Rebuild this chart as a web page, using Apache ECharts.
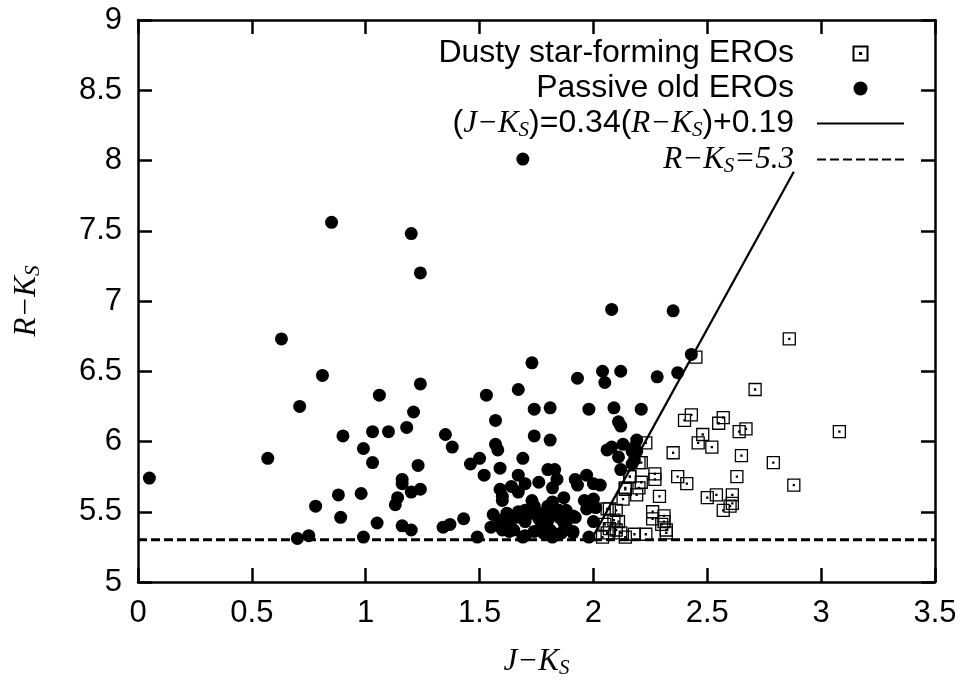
<!DOCTYPE html>
<html><head><meta charset="utf-8">
<script src="https://cdn.jsdelivr.net/npm/echarts@6/dist/echarts.min.js"></script>
<style>html,body{margin:0;padding:0;background:#fff}#c{width:963px;height:685px}</style>
</head><body><div id="c"></div>
<script>
// ---- data (J-K_S, R-K_S) ----
const passiveEROs = [
 [0.85,7.56],[0.63,6.73],[0.81,6.47],[0.71,6.25],[1.06,6.33],[0.90,6.04],[1.03,6.07],[0.99,5.95],[1.03,5.85],[0.57,5.88],
 [0.05,5.74],[0.88,5.62],[0.98,5.63],[0.78,5.54],[0.89,5.46],[1.05,5.42],[0.70,5.31],[0.75,5.33],[0.99,5.32],
 [1.20,7.48],[1.24,7.20],[1.69,8.01],
 [2.08,6.94],[1.73,6.56],[2.04,6.50],[2.12,6.50],[2.05,6.42],[1.93,6.45],[1.24,6.41],[1.53,6.33],[1.67,6.37],[1.21,6.21],
 [1.18,6.10],[1.10,6.07],[1.74,6.23],[1.81,6.24],[1.98,6.23],[2.09,6.24],[1.57,6.15],[1.35,6.05],[1.38,5.96],[1.57,5.98],
 [1.58,5.94],[1.74,6.04],[1.81,6.01],[2.11,6.14],[2.12,6.11],[2.06,5.94],[2.08,5.96],[1.23,5.83],[1.46,5.84],[1.50,5.88],
 [1.52,5.76],[1.59,5.81],[1.69,5.88],[1.67,5.76],[1.76,5.71],[1.80,5.80],[1.83,5.80],[1.84,5.73],[1.82,5.67],[1.87,5.60],
 [1.92,5.73],[1.93,5.69],[1.97,5.76],[2.00,5.70],[2.03,5.69],[1.16,5.73],[1.16,5.70],[1.20,5.64],[1.24,5.66],[1.14,5.60],
 [1.13,5.55],[1.16,5.40],[1.20,5.37],[1.34,5.39],[1.37,5.41],[1.43,5.45],[1.49,5.32],[1.59,5.66],[1.60,5.61],[1.60,5.58],
 [1.64,5.68],[1.67,5.64],[1.70,5.70],[1.73,5.58],[1.82,5.57],[1.96,5.58],[1.97,5.52],[2.00,5.59],[2.01,5.53],[1.56,5.48],
 [1.55,5.39],[1.59,5.44],[1.62,5.49],[1.60,5.37],[1.63,5.42],[1.66,5.46],[1.70,5.51],[1.70,5.43],[1.69,5.32],[1.74,5.54],
 [1.76,5.45],[1.74,5.36],[1.78,5.49],[1.80,5.44],[1.82,5.51],[1.81,5.37],[1.82,5.32],[1.85,5.46],[1.88,5.51],[1.87,5.42],
 [1.86,5.35],[1.91,5.35],[1.92,5.46],[2.00,5.43],[1.98,5.32],[1.78,5.35],[1.77,5.39],[1.65,5.37],
 [2.35,6.93],[2.43,6.62],[2.28,6.46],[2.37,6.49],[2.21,6.23],[2.19,6.01],[2.18,5.96],[2.13,5.98],[2.17,5.93],[2.19,5.93],
 [2.11,5.89],[2.18,5.87],[2.17,5.84],[2.12,5.80],
 [1.61,5.44],[1.63,5.36],[1.67,5.50],[1.70,5.33],[1.73,5.49],[1.77,5.38],[1.80,5.54],[1.82,5.35],[1.85,5.51],[1.88,5.42],
 [1.91,5.47],[1.91,5.36]
];
const dustyEROs = [
 [2.86,6.73],[2.45,6.60],[2.71,6.37],[3.08,6.07],[2.43,6.19],[2.40,6.15],[2.57,6.17],[2.55,6.13],[2.64,6.07],[2.67,6.09],
 [2.48,6.05],[2.46,5.99],[2.52,5.96],[2.23,5.99],[2.35,5.92],[2.65,5.90],[2.79,5.85],[2.20,5.85],[2.16,5.75],[2.27,5.77],
 [2.27,5.73],[2.37,5.75],[2.41,5.70],[2.63,5.75],[2.88,5.69],[2.21,5.71],[2.14,5.66],[2.20,5.67],[2.19,5.62],[2.29,5.61],
 [2.13,5.59],[2.50,5.60],[2.54,5.62],[2.61,5.62],[2.61,5.56],[2.60,5.54],[2.57,5.51],[2.10,5.51],[2.06,5.52],[2.26,5.50],
 [2.26,5.45],[2.31,5.47],[2.31,5.43],[2.32,5.37],[2.32,5.35],[2.30,5.41],[2.23,5.34],[2.18,5.34],[2.14,5.32],[2.05,5.41],
 [2.07,5.38],[2.10,5.37],[2.11,5.43],[2.09,5.44],[2.06,5.35],[2.12,5.35],[2.04,5.32],[2.07,5.52],[2.14,5.67],[2.16,5.75],
 [2.21,5.85]
];
// (J-K_S)=0.34(R-K_S)+0.19 segment endpoints, and R-K_S=5.3 cut
const fitLine = [[1.99,5.3],[2.88,7.92]];
const cutLine = [[0,5.3],[3.5,5.3]];
const xTickLabels = ['0','0.5','1','1.5','2','2.5','3','3.5'];
const yTickLabels = ['5','5.5','6','6.5','7','7.5','8','8.5','9'];

const SANS = 'Liberation Sans';
const SERIF = 'Liberation Serif';
const legendText = {
  'Dusty star-forming EROs': '{n|Dusty star-forming EROs}',
  'Passive old EROs': '{n|Passive old EROs}',
  'fit': '{n|(}{i|J−K}{s|S}{n|)=0.34(}{i|R−K}{s|S}{n|)+0.19}',
  'cut': '{i|R−K}{s|S}{i|=5.3}'
};
const richCommon = {
  n: {fontFamily: SANS, fontSize: 32, lineHeight: 35, color: '#000'},
  i: {fontFamily: SERIF, fontStyle: 'italic', fontSize: 31, lineHeight: 35, color: '#000'},
  s: {fontFamily: SERIF, fontStyle: 'italic', fontSize: 21, lineHeight: 20, verticalAlign: 'bottom', color: '#000'}
};
const axisRich = {
  i: {fontFamily: SERIF, fontStyle: 'italic', fontSize: 31, lineHeight: 35, color: '#000'},
  s: {fontFamily: SERIF, fontStyle: 'italic', fontSize: 21, lineHeight: 20, verticalAlign: 'bottom', color: '#000'}
};

const lineW = 2.5;
function xAx(pos, show) {
  return {
    type: 'value', position: pos, min: 0, max: 3.5, interval: 0.5,
    axisLine: {onZero: false, lineStyle: {color: '#000', width: lineW}},
    axisTick: {inside: true, length: 14, lineStyle: {color: '#000', width: lineW}},
    axisLabel: {show: show, margin: 16, fontSize: 31, fontFamily: SANS, color: '#000',
      formatter: (v) => xTickLabels[Math.round(v / 0.5)]},
    splitLine: {show: false}
  };
}
function yAx(pos, show) {
  return {
    type: 'value', position: pos, min: 5, max: 9, interval: 0.5,
    axisLine: {onZero: false, lineStyle: {color: '#000', width: lineW}},
    axisTick: {inside: true, length: 14, lineStyle: {color: '#000', width: lineW}},
    axisLabel: {show: show, margin: 16, fontSize: 31, fontFamily: SANS, color: '#000',
      formatter: (v) => yTickLabels[Math.round((v - 5) / 0.5)]},
    splitLine: {show: false}
  };
}
const xa0 = xAx('bottom', true);
Object.assign(xa0, {name: '{i|J−K}{s|S}', nameLocation: 'middle', nameGap: 62, nameTextStyle: {rich: axisRich}});
const ya0 = yAx('left', true);
Object.assign(ya0, {name: '{i|R−K}{s|S}', nameLocation: 'middle', nameGap: 94, nameTextStyle: {rich: axisRich}});

const noDot = {color: 'rgba(0,0,0,0)', borderWidth: 0, opacity: 0};
const chart = echarts.init(document.getElementById('c'), null, {renderer: 'canvas'});
chart.setOption({
  animation: false,
  backgroundColor: '#fff',
  grid: {left: 138, top: 20, width: 797, height: 562, containLabel: false},
  xAxis: [xa0, xAx('top', false)],
  yAxis: [ya0, yAx('right', false)],
  legend: {
    orient: 'vertical', right: 58, top: 37.5, align: 'right',
    itemWidth: 87, itemHeight: 14, itemGap: 3, padding: 0, selectedMode: false,
    data: ['Dusty star-forming EROs', 'Passive old EROs',
           {name: 'fit', itemStyle: noDot}, {name: 'cut', itemStyle: noDot}],
    formatter: (n) => legendText[n],
    textStyle: {padding: [0, 18, 0, 0], rich: richCommon}
  },
  series: [
    {name: 'Dusty star-forming EROs', type: 'scatter', data: dustyEROs, z: 2,
     symbol: 'path://M0,0H12V12H0Z M5.5,5.5H6.5V6.5H5.5Z', symbolSize: 12,
     itemStyle: {color: 'rgba(0,0,0,0)', borderColor: '#000', borderWidth: 1.3, opacity: 1}},
    {name: 'Passive old EROs', type: 'scatter', data: passiveEROs, z: 3,
     symbol: 'circle', symbolSize: 13, itemStyle: {color: '#000', opacity: 1}},
    {name: 'fit', type: 'line', data: fitLine, z: 4, symbol: 'none',
     itemStyle: {color: '#000'}, lineStyle: {color: '#000', width: 2.2}},
    {name: 'cut', type: 'line', data: cutLine, z: 4, symbol: 'none',
     itemStyle: {color: '#000'}, lineStyle: {color: '#000', width: 3, type: [9, 4]}}
  ]
});
</script>
</body></html>
